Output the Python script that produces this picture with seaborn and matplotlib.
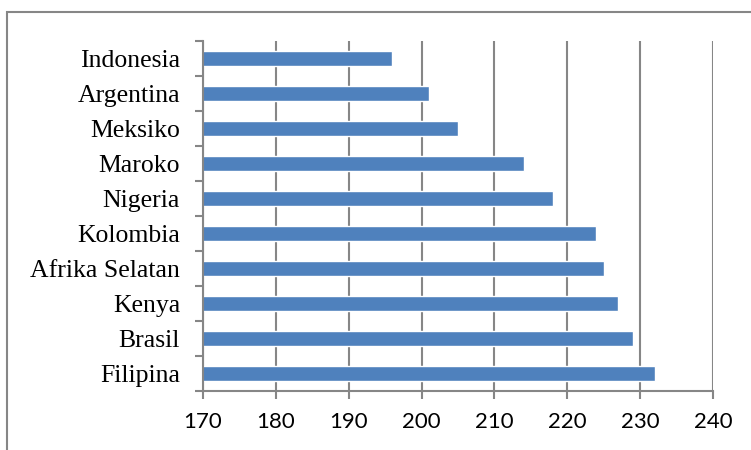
import matplotlib
matplotlib.use("Agg")
import matplotlib.pyplot as plt
import seaborn as sns
import pandas as pd
from matplotlib.patches import Rectangle

countries = ["Indonesia", "Argentina", "Meksiko", "Maroko", "Nigeria",
             "Kolombia", "Afrika Selatan", "Kenya", "Brasil", "Filipina"]
values = [196, 201, 205, 214, 218, 224, 225, 227, 229, 232]
xticks = [170, 180, 190, 200, 210, 220, 230, 240]

df = pd.DataFrame({"country": countries, "value": values})

sns.set_theme(style="white")
fig = plt.figure(figsize=(7.51, 4.5), dpi=100)
ax = fig.add_axes([203/751, 1-391/450, (713-203)/751, (391-41)/450])

grid_c = "#868686"
sns.barplot(data=df, x="value", y="country", orient="h", color="#4F81BD",
            saturation=1, width=0.42, ax=ax)

ax.set_xlim(170, 240)
ax.set_ylim(9.5, -0.5)
ax.set_xticks(xticks)
ax.set_xticklabels([str(t) for t in xticks], fontfamily="Lato", fontsize=16)
ax.set_yticks(range(len(countries)))
ax.set_yticklabels(countries, fontfamily="Liberation Serif", fontsize=18.5)
ax.set_yticks([i - 0.5 for i in range(len(countries) + 1)], minor=True)
ax.tick_params(axis="y", which="major", length=0, pad=16.5, colors="black")
ax.tick_params(axis="y", which="minor", length=6, width=1.5, color=grid_c, left=True)
ax.tick_params(axis="x", which="major", length=6, width=1.5, color=grid_c, pad=9, bottom=True, labelcolor="black")
ax.xaxis.grid(True, color=grid_c, linewidth=1.5)
ax.set_axisbelow(True)
ax.set_xlabel("")
ax.set_ylabel("")
for s in ["top", "right"]:
    ax.spines[s].set_visible(False)
for s in ["left", "bottom"]:
    ax.spines[s].set_color(grid_c)
    ax.spines[s].set_linewidth(1.5)

fig.patches.append(Rectangle((7/751, -0.1), 2, 1-12/450+0.1, transform=fig.transFigure,
                             fill=False, edgecolor=grid_c, linewidth=1.5, clip_on=False))

fig.savefig("out.png", dpi=100)
